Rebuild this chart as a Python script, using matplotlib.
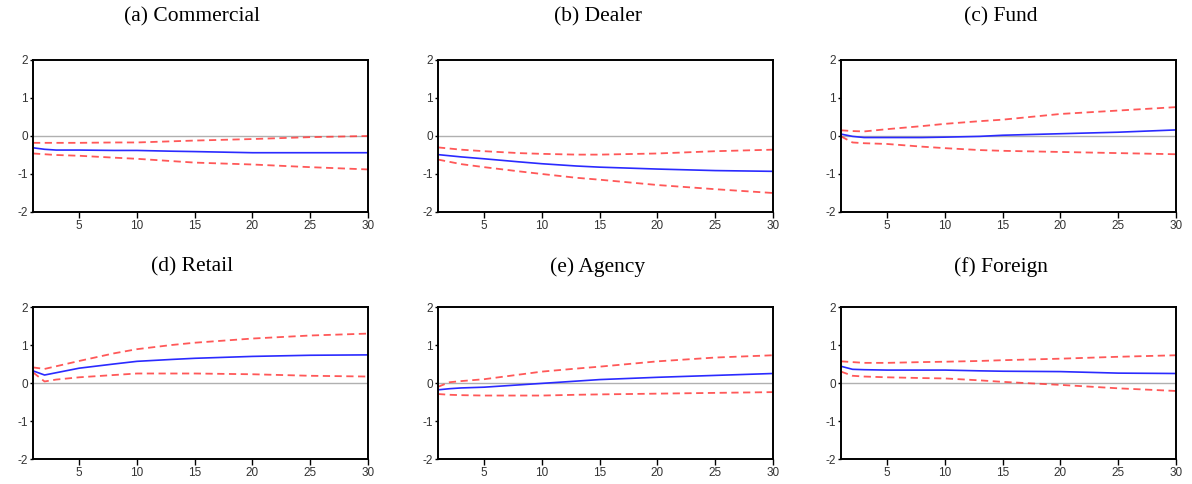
import matplotlib
matplotlib.use("Agg")
import matplotlib.pyplot as plt

plt.rcParams["axes.unicode_minus"] = False

h = [1, 2, 3, 5, 8, 10, 13, 15, 20, 25, 30]

titles = ["(a) Commercial", "(b) Dealer", "(c) Fund",
          "(d) Retail", "(e) Agency", "(f) Foreign"]

resp_a = [-0.31, -0.35, -0.37, -0.37, -0.38, -0.38, -0.40, -0.41, -0.44, -0.44, -0.44]
up_a = [-0.18, -0.18, -0.18, -0.18, -0.17, -0.17, -0.14, -0.12, -0.08, -0.03, 0.00]
lo_a = [-0.46, -0.48, -0.50, -0.52, -0.57, -0.60, -0.66, -0.70, -0.75, -0.82, -0.88]

resp_b = [-0.49, -0.52, -0.55, -0.60, -0.68, -0.73, -0.79, -0.82, -0.87, -0.91, -0.93]
up_b = [-0.30, -0.33, -0.36, -0.40, -0.45, -0.47, -0.49, -0.49, -0.46, -0.40, -0.36]
lo_b = [-0.62, -0.68, -0.74, -0.82, -0.93, -1.00, -1.10, -1.15, -1.29, -1.40, -1.50]

resp_c = [0.05, -0.01, -0.04, -0.04, -0.04, -0.03, -0.01, 0.02, 0.06, 0.10, 0.16]
up_c = [0.15, 0.13, 0.12, 0.18, 0.26, 0.32, 0.39, 0.43, 0.58, 0.67, 0.76]
lo_c = [-0.01, -0.17, -0.19, -0.21, -0.28, -0.32, -0.37, -0.39, -0.42, -0.45, -0.48]

resp_d = [0.32, 0.21, 0.27, 0.39, 0.50, 0.57, 0.62, 0.65, 0.70, 0.73, 0.74]
up_d = [0.41, 0.37, 0.44, 0.58, 0.78, 0.89, 1.00, 1.06, 1.17, 1.25, 1.30]
lo_d = [0.28, 0.04, 0.09, 0.15, 0.21, 0.25, 0.25, 0.25, 0.23, 0.19, 0.17]

resp_e = [-0.18, -0.15, -0.13, -0.11, -0.05, -0.01, 0.05, 0.09, 0.15, 0.20, 0.25]
up_e = [-0.10, 0.02, 0.05, 0.10, 0.22, 0.30, 0.38, 0.43, 0.57, 0.67, 0.73]
lo_e = [-0.29, -0.31, -0.32, -0.33, -0.33, -0.33, -0.31, -0.30, -0.28, -0.26, -0.24]

resp_f = [0.44, 0.36, 0.35, 0.34, 0.34, 0.34, 0.32, 0.31, 0.30, 0.26, 0.25]
up_f = [0.57, 0.55, 0.53, 0.53, 0.55, 0.56, 0.58, 0.60, 0.64, 0.69, 0.73]
lo_f = [0.30, 0.19, 0.17, 0.15, 0.13, 0.12, 0.07, 0.03, -0.05, -0.14, -0.21]

series = [(resp_a, up_a, lo_a), (resp_b, up_b, lo_b), (resp_c, up_c, lo_c),
          (resp_d, up_d, lo_d), (resp_e, up_e, lo_e), (resp_f, up_f, lo_f)]

W, H = 1192, 484
fig = plt.figure(figsize=(W / 100, H / 100), dpi=100)

lefts = [33, 438, 841]
tops = [60, 307]
pw, ph = 335, 152
title_y = [17, 267]

for i, (resp, up, lo) in enumerate(series):
    r, c = divmod(i, 3)
    x0, y0 = lefts[c], tops[r]
    ax = fig.add_axes([x0 / W, 1 - (y0 + ph) / H, pw / W, ph / H])
    ax.axhline(0, color="#b0b0b0", lw=1.0, zorder=1)
    ax.plot(h, up, color="#ff3b3b", ls=(0, (4, 2.5)), lw=1.3, alpha=0.85)
    ax.plot(h, lo, color="#ff3b3b", ls=(0, (4, 2.5)), lw=1.3, alpha=0.85)
    ax.plot(h, resp, color="#2a2aff", lw=1.2)
    ax.set_xlim(1, 30)
    ax.set_ylim(-2, 2)
    ax.set_xticks([5, 10, 15, 20, 25, 30])
    ax.set_yticks([-2, -1, 0, 1, 2])
    ax.tick_params(axis="x", direction="out", length=4, width=1.0, labelsize=8.5,
                   labelcolor="#333333", pad=2)
    ax.tick_params(axis="y", direction="out", length=2.5, width=1.0, labelsize=8.5,
                   labelcolor="#333333", pad=1)
    for lab in ax.get_xticklabels() + ax.get_yticklabels():
        lab.set_family("Liberation Sans")
    for s in ax.spines.values():
        s.set_linewidth(1.4)
    fig.text((x0 + pw / 2 - 8) / W, 1 - title_y[r] / H, titles[i],
             ha="center", va="center", fontsize=15.5, family="Liberation Serif")

fig.savefig("out.png", dpi=100)
